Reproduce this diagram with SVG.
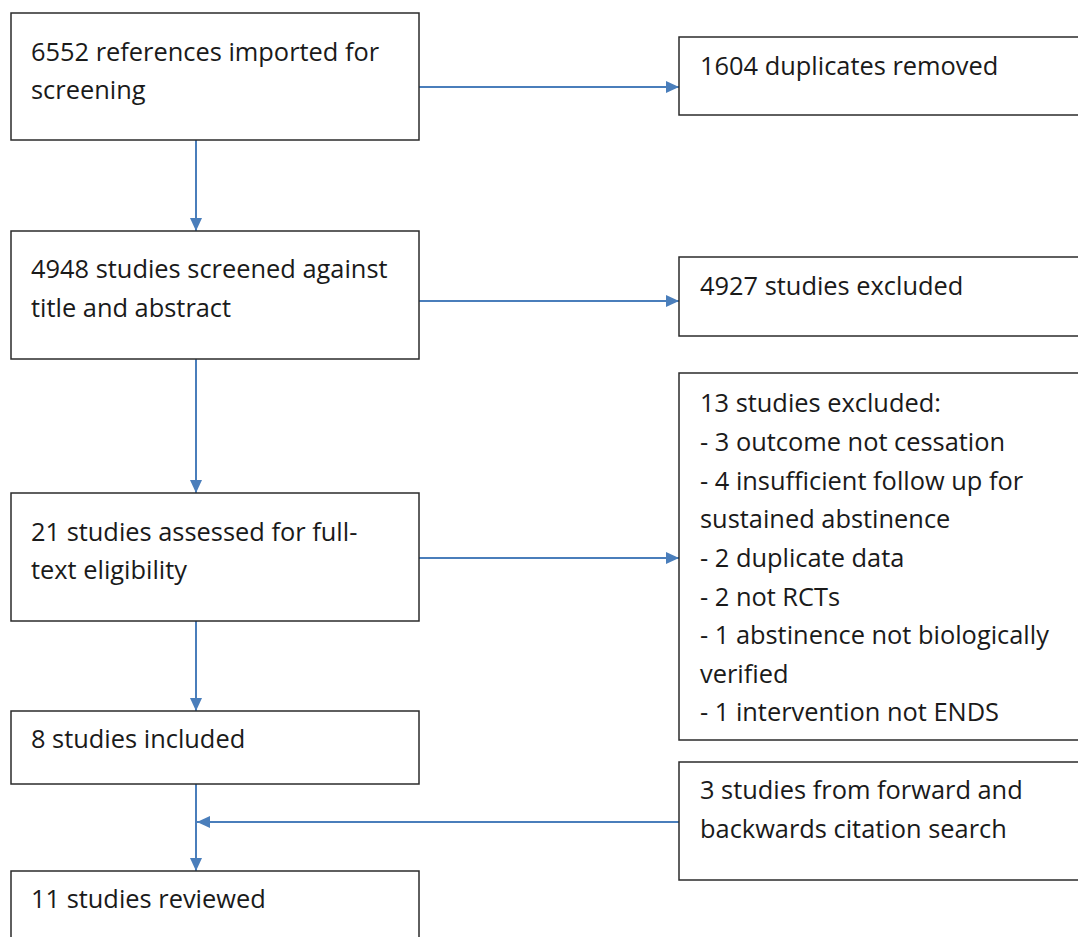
<svg xmlns="http://www.w3.org/2000/svg" width="1078" height="937" viewBox="0 0 1078 937">
<style>
.box{fill:#fff;stroke:#2b2b2b;stroke-width:1.5}
.t{font-family:"Open Sans","Noto Sans","Liberation Sans",sans-serif;font-size:25.4px;fill:#1a1a1a}
.c{stroke:#4a7ebb;stroke-width:2;fill:none}
</style>
<defs>
<marker id="ah" viewBox="0 0 13 12" refX="13" refY="6" markerWidth="13" markerHeight="12" markerUnits="userSpaceOnUse" orient="auto">
<path d="M0,0 L13,6 L0,12 Z" fill="#4a7ebb"/>
</marker>
</defs>
<rect width="1078" height="937" fill="#fff"/>
<g id="connectors">
<line class="c" x1="196" y1="140" x2="196" y2="231" marker-end="url(#ah)"/>
<line class="c" x1="196" y1="359" x2="196" y2="493" marker-end="url(#ah)"/>
<line class="c" x1="196" y1="621" x2="196" y2="711" marker-end="url(#ah)"/>
<line class="c" x1="196" y1="784" x2="196" y2="871" marker-end="url(#ah)"/>
<line class="c" x1="419" y1="87" x2="679" y2="87" marker-end="url(#ah)"/>
<line class="c" x1="419" y1="301" x2="679" y2="301" marker-end="url(#ah)"/>
<line class="c" x1="419" y1="558" x2="679" y2="558" marker-end="url(#ah)"/>
<line class="c" x1="679" y1="822" x2="197" y2="822" marker-end="url(#ah)"/>
</g>
<g id="n1"><rect class="box" x="11" y="13" width="408" height="127"/>
<text class="t" x="31" y="61">6552 references imported for</text>
<text class="t" x="31" y="99">screening</text></g>
<g id="n2"><rect class="box" x="679" y="37" width="410" height="78"/>
<text class="t" x="700" y="75">1604 duplicates removed</text></g>
<g id="n3"><rect class="box" x="11" y="231" width="408" height="128"/>
<text class="t" x="31" y="278">4948 studies screened against</text>
<text class="t" x="31" y="317">title and abstract</text></g>
<g id="n4"><rect class="box" x="679" y="257" width="410" height="79"/>
<text class="t" x="700" y="295">4927 studies excluded</text></g>
<g id="n5"><rect class="box" x="679" y="373" width="410" height="367"/>
<text class="t" x="700" y="412">13 studies excluded:</text>
<text class="t" x="700" y="451">- 3 outcome not cessation</text>
<text class="t" x="700" y="490">- 4 insufficient follow up for</text>
<text class="t" x="700" y="528">sustained abstinence</text>
<text class="t" x="700" y="567">- 2 duplicate data</text>
<text class="t" x="700" y="606">- 2 not RCTs</text>
<text class="t" x="700" y="644">- 1 abstinence not biologically</text>
<text class="t" x="700" y="683">verified</text>
<text class="t" x="700" y="721">- 1 intervention not ENDS</text></g>
<g id="n6"><rect class="box" x="11" y="493" width="408" height="128"/>
<text class="t" x="31" y="541">21 studies assessed for full-</text>
<text class="t" x="31" y="579">text eligibility</text></g>
<g id="n7"><rect class="box" x="11" y="711" width="408" height="73"/>
<text class="t" x="31" y="748">8 studies included</text></g>
<g id="n8"><rect class="box" x="679" y="762" width="410" height="118"/>
<text class="t" x="700" y="799">3 studies from forward and</text>
<text class="t" x="700" y="838">backwards citation search</text></g>
<g id="n9"><rect class="box" x="11" y="871" width="408" height="80"/>
<text class="t" x="31" y="908">11 studies reviewed</text></g>
</svg>
